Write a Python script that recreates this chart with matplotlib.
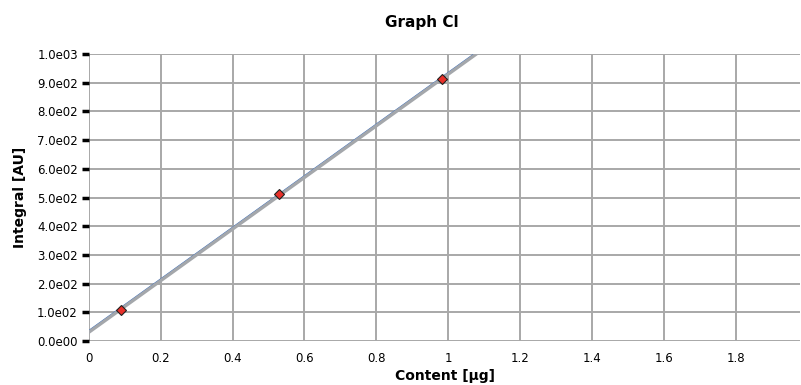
import numpy as np
import matplotlib.pyplot as plt
from matplotlib.ticker import FuncFormatter

# calibration points
content_ug = [0.089, 0.529, 0.984]
integral_au = [108, 512, 912]

x_ticks = [0, 0.2, 0.4, 0.6, 0.8, 1.0, 1.2, 1.4, 1.6, 1.8]
y_ticks = [0, 100, 200, 300, 400, 500, 600, 700, 800, 900, 1000]

plt.rcParams['font.family'] = ['DejaVu Sans']

fig = plt.figure(figsize=(8.01, 3.85), dpi=100)
ax = fig.add_axes([0.111, 0.114, 0.888, 0.746])

# linear fit through the points
slope, intercept = np.polyfit(content_ug, integral_au, 1)
xs = np.array([0, 1.2])
ax.plot(xs, intercept + 5 + slope * xs, color='#3a6fc0', linewidth=1.2, zorder=3)
ax.plot(xs, intercept + slope * xs, color='#a4a7ab', linewidth=2.4, zorder=3)
ax.plot(content_ug, integral_au, linestyle='none', marker='D', markersize=5,
        markerfacecolor='#e8302a', markeredgecolor='#202020', markeredgewidth=0.8, zorder=4)

ax.set_xlim(0, 1.98)
ax.set_ylim(0, 1000)
ax.set_xticks(x_ticks)
ax.set_yticks(y_ticks)
ax.xaxis.set_major_formatter(FuncFormatter(lambda v, p: f"{v:g}"))

def sci(v, p):
    if v == 0:
        return "0.0e00"
    e = int(np.floor(np.log10(abs(v))))
    return f"{v / 10**e:.1f}e{e:02d}"

ax.yaxis.set_major_formatter(FuncFormatter(sci))

ax.grid(True, color='#a8a8a8', linewidth=1.4)
ax.set_axisbelow(True)
for s in ax.spines.values():
    s.set_visible(False)
ax.tick_params(axis='y', length=5, width=2.5, color='black', labelsize=8.5, pad=3)
ax.tick_params(axis='x', length=0, labelsize=8.5, pad=8)

ax.set_xlabel("Content [µg]", fontsize=10, fontweight='bold', labelpad=3)
ax.set_ylabel("Integral [AU]", fontsize=10, fontweight='bold', labelpad=7)
fig.suptitle("Graph Cl", fontsize=11, fontweight='bold', x=0.526, y=0.96)

fig.savefig("out.png", dpi=100)
